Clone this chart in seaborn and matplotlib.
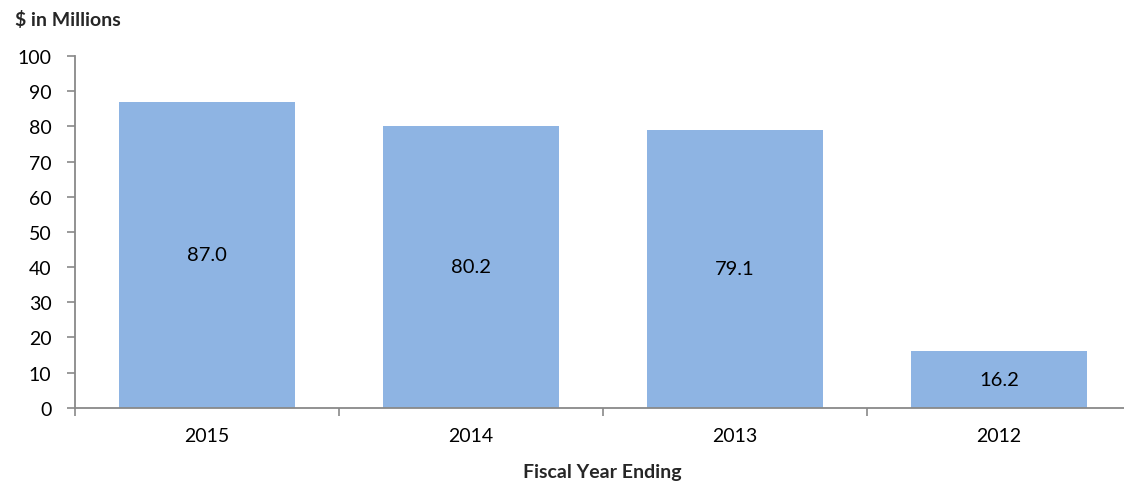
import matplotlib
matplotlib.use("Agg")
import matplotlib.pyplot as plt
import seaborn as sns
import pandas as pd

years = ["2015", "2014", "2013", "2012"]
values = [87.0, 80.2, 79.1, 16.2]
y_ticks = [0, 10, 20, 30, 40, 50, 60, 70, 80, 90, 100]

df = pd.DataFrame({"year": years, "value": values})

sns.set_theme(style="white")
plt.rcParams["font.family"] = ["Lato", "DejaVu Sans"]

W, H = 1124, 485
fig = plt.figure(figsize=(W / 100, H / 100), dpi=100)
ax = fig.add_axes([75 / W, (H - 408.7) / H, (1131 - 75) / W, (408.7 - 57) / H])

sns.barplot(data=df, x="year", y="value", color="#8EB4E3", width=0.667,
            saturation=1, ax=ax, edgecolor="none")

ax.set_ylim(0, 100)
ax.set_xlim(-0.5, 3.5)
ax.set_yticks(y_ticks)
ax.set_yticklabels([str(t) for t in y_ticks], fontsize=14, color="#000000")

axis_gray = "#898989"
for side in ["top", "right"]:
    ax.spines[side].set_visible(False)
for side in ["left", "bottom"]:
    ax.spines[side].set_color(axis_gray)
    ax.spines[side].set_linewidth(1.3)

ax.tick_params(axis="y", which="major", direction="out", length=6, width=1.2,
               color=axis_gray, left=True, pad=11)
# Category labels centered, tick marks at category boundaries
ax.set_xticks(range(len(years)))
ax.set_xticklabels(years, fontsize=14, color="#000000")
ax.tick_params(axis="x", which="major", length=0, pad=14)
ax.set_xticks([-0.5, 0.5, 1.5, 2.5, 3.5], minor=True)
ax.tick_params(axis="x", which="minor", direction="out", length=6, width=1.2,
               color=axis_gray, bottom=True)

for i, v in enumerate(values):
    ax.text(i, v / 2, f"{v:.1f}", ha="center", va="center", fontsize=14.5,
            color="#000000")

ax.set_xlabel("")
ax.set_ylabel("")
fig.text(602 / W, 1 - 473 / H, "Fiscal Year Ending", ha="center", va="center",
         fontsize=14, fontweight="bold")
fig.text(15 / W, 1 - 20 / H, "$ in Millions", ha="left", va="center",
         fontsize=14, fontweight="bold")

fig.savefig("out.png", dpi=100)
